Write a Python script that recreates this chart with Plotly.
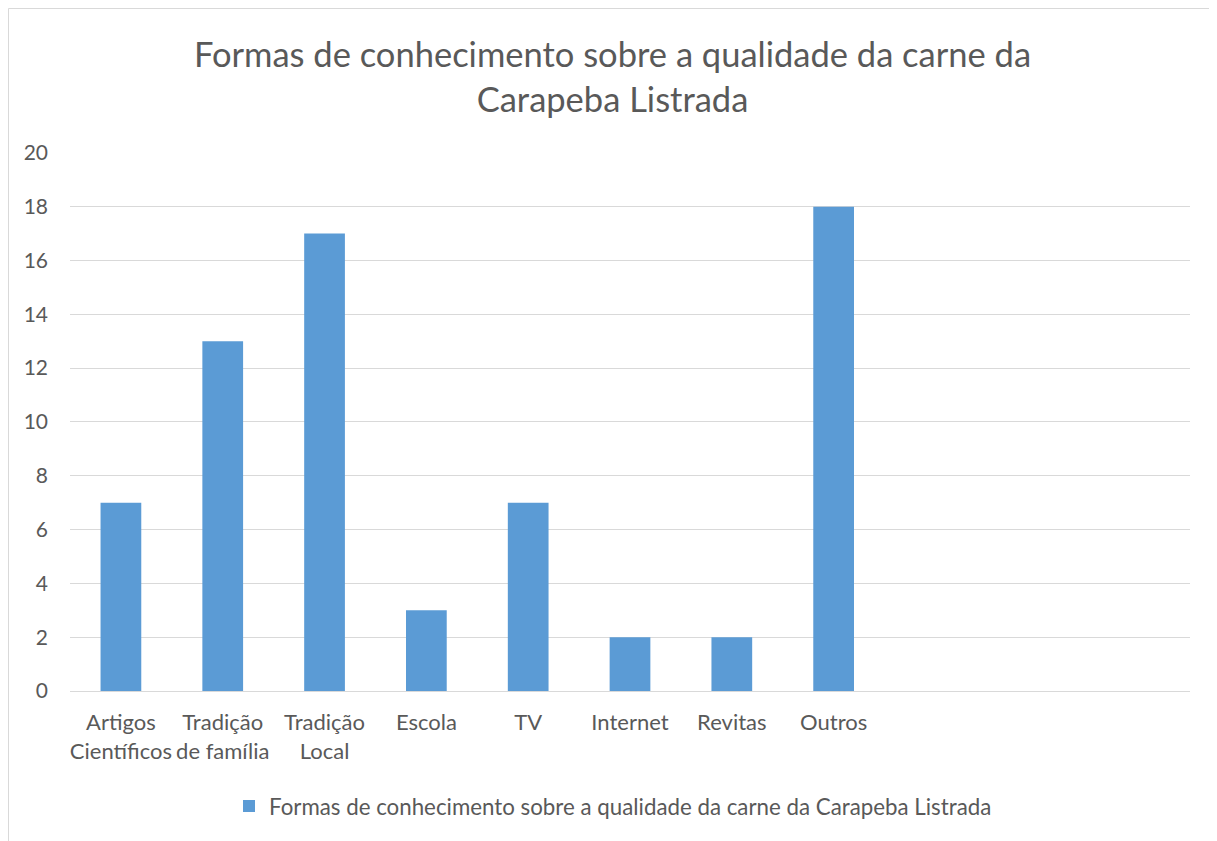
import plotly.graph_objects as go

categories = ["Artigos<br>Científicos", "Tradição<br>de família", "Tradição<br>Local", "Escola", "TV", "Internet", "Revitas", "Outros"]
values = [7, 13, 17, 3, 7, 2, 2, 18]
n_slots = 11
series_name = "Formas de conhecimento sobre a qualidade da carne da Carapeba Listrada"
title = "Formas de conhecimento sobre a qualidade da carne da<br>Carapeba Listrada"

FONT = "Lato, Carlito, Calibri, sans-serif"
OFF = 8  # page body margin
W, H = 1217 - OFF, 841 - OFF
L, T = 70 - OFF, 152 - OFF
R = W - (1190 - OFF)
B = H - (691 - OFF)
pw, ph = W - L - R, H - T - B

fig = go.Figure()
fig.add_trace(go.Bar(
    x=list(range(len(values))), y=values, name=series_name,
    marker=dict(color="#5b9bd5", line=dict(width=0)),
    width=0.4, showlegend=True,
))

fig.update_layout(
    width=W, height=H,
    margin=dict(l=L, r=R, t=T, b=B),
    paper_bgcolor="white", plot_bgcolor="white",
    font=dict(family=FONT, color="#595959", size=21),
    title=dict(text=title, x=0.5, xanchor="center", yref="container",
               y=1 - (67 - OFF) / H, yanchor="middle",
               font=dict(size=34.5, color="#595959", family=FONT)),
    xaxis=dict(range=[-0.5, n_slots - 0.5], tickmode="array",
               tickvals=list(range(len(categories))), ticktext=categories,
               showgrid=False, zeroline=False, showline=False, ticks="",
               ticklabelstandoff=16,
               tickfont=dict(size=22, color="#595959")),
    yaxis=dict(range=[0, 20.03], tickmode="array", tickvals=list(range(0, 21, 2)),
               showgrid=True, gridcolor="#d9d9d9", gridwidth=1,
               zeroline=True, zerolinecolor="#d9d9d9", zerolinewidth=1,
               showline=False, ticks="", ticklabelstandoff=21,
               tickfont=dict(size=21, color="#595959")),
    legend=dict(orientation="h", x=0.5 - 17 / pw, xanchor="center", y=(691 - 806) / ph, yanchor="middle",
                font=dict(size=22.3, color="#595959"), itemwidth=30),
    shapes=[
        dict(type="line", xref="paper", yref="paper", x0=(0.5 - L) / pw, x1=(W - L) / pw,
             y0=1 + (T - 0.5) / ph, y1=1 + (T - 0.5) / ph, line=dict(color="#d9d9d9", width=1)),
        dict(type="line", xref="paper", yref="paper", x0=(0.5 - L) / pw, x1=(0.5 - L) / pw,
             y0=1 + (T - 0.5) / ph, y1=-(B) / ph, line=dict(color="#d9d9d9", width=1)),
    ],
)

fig.write_html("out.html")
